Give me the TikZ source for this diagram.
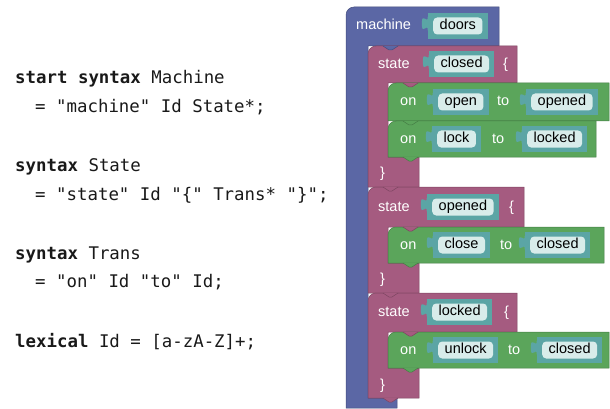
\documentclass[tikz,border=0pt]{standalone}
\usepackage{fontspec}
\setmainfont{Liberation Sans}
\setmonofont{DejaVu Sans Mono}
\usetikzlibrary{fit,backgrounds}
\definecolor{machcol}{HTML}{5B67A5}
\definecolor{statecol}{HTML}{A55B80}
\definecolor{transcol}{HTML}{5BA55B}
\definecolor{slotcol}{HTML}{5BA5A5}
\definecolor{fieldcol}{HTML}{D8ECEA}
\tikzset{
  blk/.style={fill=#1, draw=#1!75!black, line width=0.5},
  notch/.pic={\path[pic actions] (0,0) -- (6,4) -- (9,4) -- (15,0);},
  code/.style={anchor=base west, inner sep=0, text=black!90, font=\fontsize{17.4}{20}\selectfont\ttfamily},
  lbl/.style={anchor=base west, inner sep=0, text=white, font=\fontsize{14.5}{17}\selectfont},
  field/.style={anchor=west, fill=fieldcol, rounded corners=4, inner xsep=6.5, inner ysep=0,
    text height=10.5, text depth=3, minimum height=17, font=\fontsize{14.5}{17}\selectfont},
  slot/.style={fill=slotcol, inner xsep=5, inner ysep=4.5},
}
\begin{document}
\begin{tikzpicture}[x=1pt,y=-1pt]
\useasboundingbox (0,0) rectangle (610,409);

% grammar
\node[code] (l-machine) at (15,84) {\textbf{start syntax} Machine};
\node[code] (r-machine) at (35,113) {= "machine" Id State*;};
\node[code] (l-state) at (15,171) {\textbf{syntax} State};
\node[code] (r-state) at (35,200) {= "state" Id "\{" Trans* "\}";};
\node[code] (l-trans) at (15,259) {\textbf{syntax} Trans};
\node[code] (r-trans) at (35,287) {= "on" Id "to" Id;};
\node[code] (l-lexical) at (15,347) {\textbf{lexical} Id = [a-zA-Z]+;};

% blocks
\begin{scope}[on background layer]
\draw[blk=machcol] (346,408) -- (346,15) arc[start angle=180, end angle=90, radius=8pt] -- (499,7) -- (499,46)
  -- (368,46) -- (368,398) -- (397,398) -- (397,408) -- cycle;
\draw[blk=statecol] (368,187) -- (368,54) arc[start angle=180, end angle=90, radius=8pt] -- (517,46) -- (517,83)
  -- (388,83) -- (388,157) -- (419,157) -- (419,187) -- cycle;
\draw[blk=statecol] (368,293) -- (368,195) arc[start angle=180, end angle=90, radius=8pt] -- (524,187) -- (524,227)
  -- (388,227) -- (388,263) -- (419,263) -- (419,293) -- cycle;
\draw[blk=statecol] (368,398) -- (368,301) arc[start angle=180, end angle=90, radius=8pt] -- (517,293) -- (517,332)
  -- (388,332) -- (388,368) -- (419,368) -- (419,398) -- cycle;
\draw[blk=transcol] (388,121) -- (388,91) arc[start angle=180, end angle=90, radius=8pt] -- (609,83) -- (609,121) -- cycle;
\draw[blk=transcol] (388,157) -- (388,129) arc[start angle=180, end angle=90, radius=8pt] -- (596,121) -- (596,157) -- cycle;
\draw[blk=transcol] (388,263) -- (388,235) arc[start angle=180, end angle=90, radius=8pt] -- (604,227) -- (604,263) -- cycle;
\draw[blk=transcol] (388,368) -- (388,340) arc[start angle=180, end angle=90, radius=8pt] -- (609,332) -- (609,368) -- cycle;
% notches
\pic[blk=machcol] at (383,46) {notch};
\pic[blk=statecol] at (403,83) {notch};
\pic[blk=transcol] at (403,121) {notch};
\pic[blk=transcol] at (403,157) {notch};
\pic[blk=statecol] at (383,187) {notch};
\pic[blk=statecol] at (403,227) {notch};
\pic[blk=transcol] at (403,263) {notch};
\pic[blk=statecol] at (383,293) {notch};
\pic[blk=statecol] at (403,332) {notch};
\pic[blk=transcol] at (403,368) {notch};
\pic[blk=statecol] at (383,398) {notch};
\end{scope}

% machine
\node[lbl] (machine) at (356,30) {machine};
\node[field] (f-doors) at (433,26) {doors};

% state closed
\node[lbl] (state1) at (378,68.5) {state};
\node[field] (f-closed1) at (434,64) {closed};
\node[lbl] (lb1) at (503,68.5) {\{};
\node[lbl] (on1) at (400,106) {on};
\node[field] (f-open) at (438,102) {open};
\node[lbl] (to1) at (497,106) {to};
\node[field] (f-opened1) at (531,102) {opened};
\node[lbl] (on2) at (400,143) {on};
\node[field] (f-lock) at (437,139) {lock};
\node[lbl] (to2) at (492,143) {to};
\node[field] (f-locked1) at (527,139) {locked};
\node[lbl] (rb1) at (380,177) {\}};

% state opened
\node[lbl] (state2) at (378,211) {state};
\node[field] (f-opened2) at (432,207) {opened};
\node[lbl] (lb2) at (509,211) {\{};
\node[lbl] (on3) at (400,249) {on};
\node[field] (f-close) at (438,245) {close};
\node[lbl] (to3) at (500,249) {to};
\node[field] (f-closed2) at (530,245) {closed};
\node[lbl] (rb2) at (380,283) {\}};

% state locked
\node[lbl] (state3) at (378,316) {state};
\node[field] (f-locked2) at (432,312) {locked};
\node[lbl] (lb3) at (504,316) {\{};
\node[lbl] (on4) at (400,354) {on};
\node[field] (f-unlock) at (438,350) {unlock};
\node[lbl] (to4) at (508,354) {to};
\node[field] (f-closed3) at (542,350) {closed};
\node[lbl] (rb3) at (380,389) {\}};

% id slots
\begin{scope}[on background layer]
\foreach \f in {doors,closed1,open,opened1,lock,locked1,opened2,close,closed2,locked2,unlock,closed3} {
  \node[slot, fit=(f-\f)] (s-\f) {};
  \fill[slotcol] ([yshift=-4]s-\f.north west) .. controls +(0,9) and +(0,-13) .. ++(-6,7)
    .. controls +(0,13) and +(0,-9) .. ++(6,7) -- cycle;
}
\end{scope}
\end{tikzpicture}
\end{document}
